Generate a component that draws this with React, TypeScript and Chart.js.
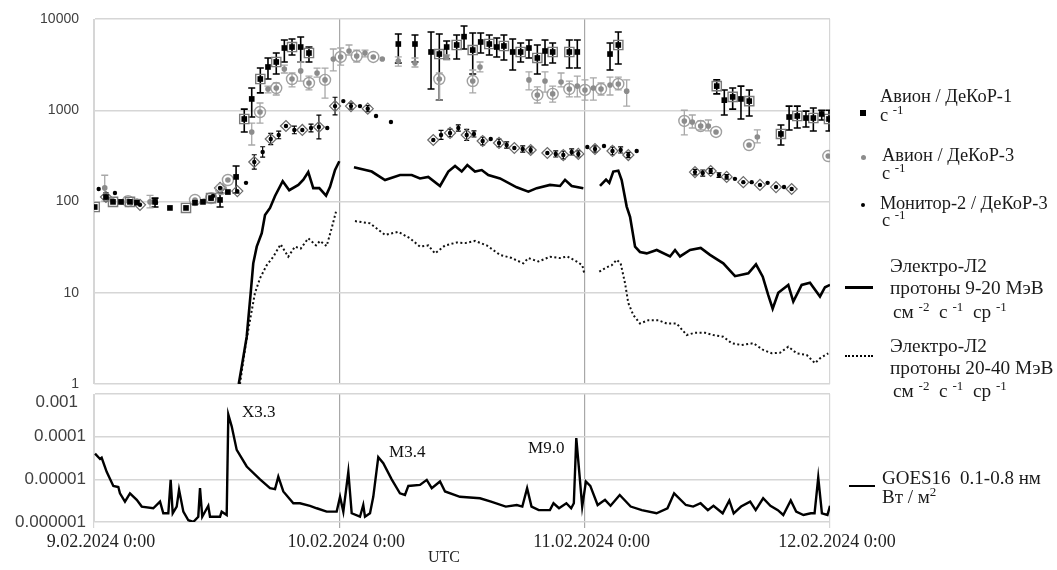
import React, { useEffect, useRef } from "react";
import { Chart, registerables } from "chart.js";

Chart.register(...registerables);

// ---- axes ----
const dayTicks = [0, 24, 48, 72];
const dayLabels = ["9.02.2024 0:00", "10.02.2024 0:00", "11.02.2024 0:00", "12.02.2024 0:00"];
const topTicks = [1, 10, 100, 1000, 10000];
const goesTicks = [1e-6, 1e-5, 1e-4, 1e-3];
const goesTickLabels = ["0.000001", "0.00001", "0.0001", "0.001"];

// ---- Авион / ДеКоР-1 (hours since 9.02 0:00) ----
const dekor1Hours = [0.07,1.17,1.86,2.64,3.52,4.2,5.97,7.43,9.0,9.88,10.66,11.45,12.33,13.1,13.9,14.7,15.43,16.27,17.02,17.83,18.62,19.37,20.22,21.03,29.77,31.4,32.97,33.78,34.5,35.48,36.2,37.05,37.83,38.67,39.4,40.1,40.96,41.74,42.55,43.37,44.12,44.87,46.5,47.28,50.48,51.29,60.92,61.66,62.48,63.29,64.1,67.2,68.0,68.8,69.65,70.37,71.19,71.9];
const dekor1Values = [87,112,99,99,99,97,99,85,85,97,99,109,104,127,186,802,1330,2200,2980,3380,4810,4930,4930,4240,5320,5320,4350,4130,4930,5190,6400,4570,5600,5320,4930,5060,4350,4350,4810,3740,4460,4350,4350,4350,4130,5190,1840,1290,1400,1330,1260,550,843,865,822,822,910,802];
const dekor1ErrHi = [null,null,null,null,null,null,109,null,null,null,null,null,124,null,245,1030,1750,2900,3740,4240,5890,6040,6350,4930,6850,6680,7210,6850,5740,6680,8380,7030,7030,6680,6190,6680,6040,5460,5890,5190,5890,5460,5890,5890,5460,7210,2150,1670,1750,1840,1670,689,1110,1110,977,1060,1000,1000];
const dekor1ErrLo = [null,null,null,null,null,null,87,null,null,null,null,null,87,null,124,578,843,1550,2200,2500,3380,4030,3380,3380,3300,3380,1710,1290,3650,3650,4690,2500,4240,4030,3840,3560,2760,3380,3740,2500,3130,3300,2900,2900,2760,3210,1510,887,1030,802,865,416,608,639,655,593,782,593];
const dekor1Boxed = [1,0,1,0,1,0,0,0,1,0,0,1,0,0,0,1,0,1,0,1,0,1,0,1,0,0,0,1,0,1,0,1,0,1,0,1,0,1,0,1,0,1,1,0,0,1,1,0,1,0,1,1,0,1,0,1,0,1];

// ---- Авион / ДеКоР-3 ----
const dekor3Hours = [1.05,1.76,2.74,3.33,4.2,5.48,9.88,10.76,11.45,12.42,13.1,15.43,16.24,17.02,17.83,18.62,19.37,20.22,21.03,21.82,22.6,23.41,24.13,24.95,25.7,26.51,27.32,28.2,29.77,31.4,33.78,34.5,37.05,37.76,42.55,43.37,44.12,44.87,45.69,46.5,47.28,48.03,48.85,49.6,50.48,51.29,52.11,57.75,58.53,59.35,60.1,60.85,64.08,64.89,71.83];
const dekor3Values = [141,104,99,101,101,99,104,101,109,137,172,578,957,1710,1750,2830,2200,2700,1990,2560,2150,3650,3840,4460,3930,4240,3840,3650,3470,3300,2200,3840,2090,2980,2150,1470,2090,1510,2040,1710,1840,1670,1750,1710,1890,1940,1620,763,743,672,672,578,416,509,315];
const dekor3ErrHi = [194,null,null,null,null,117,null,null,null,null,null,721,1200,1840,1990,3130,2560,3380,2370,2900,2900,4690,4810,5190,4570,4570,null,null,3840,3740,2560,4030,2760,3380,2630,1800,2630,1840,2560,2090,2370,2150,2260,1990,2310,2310,2150,1000,887,763,782,null,null,608,null];
const dekor3ErrLo = [101,null,null,null,null,85,null,null,null,null,null,416,721,1550,1470,2560,1800,2090,1670,2310,1360,2700,3130,4030,3380,3840,null,null,3050,2980,1290,3560,1550,2630,1670,1200,1580,1230,1800,1400,1400,1290,1290,1470,1470,1670,1110,536,639,608,593,null,null,438,null];
const dekor3Ringed = [0,0,0,1,0,0,1,0,1,1,1,0,1,0,1,0,1,0,1,0,1,0,1,0,1,0,1,0,0,0,1,0,1,0,0,1,0,1,0,1,0,1,0,1,0,1,0,1,0,1,0,1,1,0,1];

// ---- Монитор-2 / ДеКоР-3 ----
const monitorHours = [0.46,1.17,2.05,2.64,3.52,4.5,6.07,11.64,12.33,14.02,14.87,15.68,16.5,17.29,18.07,18.78,19.6,20.38,21.23,22.0,22.82,23.58,24.39,25.14,26.02,26.78,27.59,29.05,33.19,33.95,34.83,35.64,36.46,37.17,38.02,38.81,39.62,40.37,41.12,41.94,42.72,44.35,45.17,45.91,46.73,47.38,48.26,49.01,49.89,50.72,51.52,52.27,53.09,58.79,59.55,60.33,61.14,61.89,62.7,63.52,64.34,65.15,65.9,66.72,67.5,68.25];
const monitorValues = [137,112,124,99,101,92,97,115,141,130,160,271,349,484,536,672,608,608,639,655,639,1110,1260,1110,1110,1040,865,743,472,536,564,639,536,550,460,484,438,416,386,376,367,340,332,323,349,332,396,376,406,358,367,323,358,210,205,216,195,186,177,163,163,152,160,144,144,137];
const monitorErrFactor = [null,1.12,null,null,null,null,null,null,null,null,null,1.2,1.14,1.15,1.1,null,1.1,null,1.1,1.35,null,1.25,null,1.08,null,1.08,null,null,null,1.12,1.1,1.08,1.15,1.08,1.1,null,1.1,1.08,null,1.08,1.08,null,1.08,1.1,1.08,1.08,null,1.08,null,1.1,1.08,1.07,null,1.07,1.08,1.06,1.06,1.06,null,null,null,null,null,null,null,null];
const monitorDiamondIdx = [1,5,8,9,11,13,15,17,19,21,23,25,28,30,32,34,36,38,40,41,43,45,47,49,51,53,55,57,59,61,63,65];

// ---- Электро-Л2 протоны 9-20 МэВ ----
const e9Hours = [14.16,14.45,14.94,15.33,15.58,15.92,16.41,16.73,17.22,17.71,18.46,19.1,19.99,20.48,20.96,21.45,22.04,22.7,23.09,23.58,24.0,24.7,25.43,27.17,28.47,29.94,31.08,31.89,32.7,33.85,34.66,35.32,35.97,36.52,37.27,37.93,38.57,39.72,41.35,42.49,43.31,44.61,45.59,46.08,46.73,47.87,48.7,49.5,50.09,50.41,50.8,51.29,51.62,52.11,52.44,52.93,53.41,54.07,55.05,56.35,56.84,57.33,58.31,59.35,60.26,61.56,62.71,64.01,64.76,65.42,65.96,66.39,66.94,67.92,68.41,69.23,70.04,71.02,71.51,72];
const e9Values = [1.0,1.55,3.3,10,21,32,45,71,85,115,167,133,152,173,210,140,140,116,145,222,276,null,237,213,172,195,195,179,186,148,213,245,213,251,213,221,195,179,143,128,140,152,148,173,148,140,null,148,174,160,213,218,172,88,68,32,28,27,29.4,25,29.4,25,29.4,31,26,21,15.2,16.3,20.5,15,9.4,6.7,10,12.2,8,12.2,12.9,9.1,11.5,12.2];

// ---- Электро-Л2 протоны 20-40 МэВ ----
const e40Hours = [14.28,14.77,15.26,15.75,16.24,16.89,17.54,18.26,19.0,19.66,20.22,20.96,21.72,22.11,22.76,23.25,23.67,24.6,25.53,27.0,28.47,29.77,30.91,31.89,32.7,33.36,34.34,35.48,36.29,37.27,38.42,39.72,40.86,42.0,42.49,43.47,44.61,45.59,46.3,47.22,47.77,47.96,48.7,49.43,50.15,50.65,51.13,51.52,51.95,52.27,52.76,53.41,54.23,55.2,56.03,57.0,57.98,58.79,59.77,60.58,61.56,62.38,63.36,64.5,65.47,66.3,67.11,67.92,68.74,69.72,70.53,71.02,71.83];
const e40Values = [1,2.4,5,10,14.4,20,24.8,34,24.8,32,30.5,39.5,33,37,32.5,51,77,null,61,57.6,43,46.6,39.5,32,33,27,33,35.5,35,37,33,26,24,21,24,22,24.8,24,25,22,20,16.3,null,17,19,20,23,21,12.7,7.7,5.7,4.6,5,5,4.6,4.6,3.44,3.65,3.65,3.44,3.3,2.8,2.67,2.8,2.36,2.17,2.2,2.56,2.17,2.08,1.69,1.91,2.17];

// ---- GOES16 0.1-0.8 нм ----
const goesHours = [0.1,0.59,0.75,1.24,1.89,2.38,2.54,3.03,3.52,4.18,4.67,5.8,6.46,6.78,7.27,7.5,7.7,8.09,8.32,8.74,9.23,9.71,10.2,10.37,10.59,11.18,11.35,12.33,12.49,12.98,13.14,13.47,13.96,14.94,16.24,17.22,17.71,18.03,18.52,19.5,20.15,21.13,21.79,22.76,23.74,24.07,24.39,24.88,25.21,26.02,26.34,26.51,27.0,27.32,27.81,28.3,29.12,29.93,30.42,30.75,31.89,32.55,33.04,33.85,34.34,35.8,37.76,38.84,40.28,41.36,41.9,42.37,42.8,43.51,44.6,44.95,45.49,46.21,46.68,46.94,47.18,47.48,47.76,48.12,48.55,49.27,49.99,50.53,51.43,52.5,53.59,55.03,56.1,56.75,57.9,58.61,59.34,60.05,60.6,61.5,62.15,62.58,63.3,64.19,64.73,65.46,66.17,66.9,67.43,68.16,68.69,69.4,70.13,70.49,70.85,71.21,71.75,72];
const goesValues = [4e-5,3e-5,3.2e-5,1.5e-5,7e-6,6.6e-6,4.7e-6,3e-6,4.7e-6,3.3e-6,2.3e-6,2.1e-6,3e-6,1.6e-6,1.6e-6,9.7e-6,1.6e-6,2.3e-6,5.7e-6,1.75e-6,1.1e-6,1e-6,1.33e-6,6.2e-6,1.33e-6,2.4e-6,1.33e-6,1.33e-6,1.75e-6,1.46e-6,3.3e-4,1.75e-4,4.9e-5,2e-5,1e-5,6.2e-6,5.9e-6,1.16e-5,5.2e-6,2.75e-6,2.75e-6,2.4e-6,2.1e-6,1.75e-6,1.75e-6,3.9e-6,1.75e-6,1.5e-5,1.6e-6,1.33e-6,2.5e-6,1.33e-6,1.6e-6,3.9e-6,3.3e-5,2.4e-5,1e-5,4.7e-6,4.3e-6,7e-6,7.4e-6,9.7e-6,6.2e-6,8.9e-6,5.2e-6,3.9e-6,3.6e-6,3e-6,2.3e-6,2.5e-6,2.3e-6,6.2e-6,2.3e-6,1.9e-6,1.9e-6,2.75e-6,2.1e-6,2.75e-6,2.1e-6,2.75e-6,9.3e-5,1.4e-5,2.3e-6,8.9e-6,7e-6,2.5e-6,3.3e-6,2.4e-6,4.3e-6,2.3e-6,1.9e-6,1.6e-6,2.1e-6,4.7e-6,2.5e-6,2.3e-6,2.75e-6,1.9e-6,2.4e-6,1.6e-6,3.2e-6,1.6e-6,2.3e-6,3e-6,1.9e-6,3.6e-6,2.4e-6,1.9e-6,1.46e-6,3.2e-6,1.75e-6,1.46e-6,1.6e-6,1.6e-6,1.1e-5,1.6e-6,1.46e-6,2.4e-6];

// ---- flare labels ----
const flareLabels = ["X3.3", "M3.4", "M9.0"];
const flareHours = [14.48, 28.86, 42.46];
const flareValues = [3.67e-4, 4.2e-5, 5.2e-5];

const pts = (xs: number[], ys: (number | null)[]) => xs.map((x, i) => ({ x, y: ys[i] }));
const pick = (xs: number[], ys: number[], flags: number[]) =>
  xs.map((x, i) => ({ x, y: ys[i] })).filter((_, i) => flags[i]);

const errorBarPlugin = {
  id: "errorBars",
  beforeDatasetsDraw(chart: any) {
    const { ctx, chartArea } = chart;
    const xs = chart.scales.x;
    const ys = chart.scales.y;
    ctx.save();
    ctx.beginPath();
    ctx.rect(chartArea.left, chartArea.top, chartArea.right - chartArea.left, chartArea.bottom - chartArea.top);
    ctx.clip();
    chart.data.datasets.forEach((ds: any) => {
      const eb = ds.errorBars;
      if (!eb) return;
      ctx.strokeStyle = eb.color;
      ctx.lineWidth = eb.width;
      ds.data.forEach((p: any, j: number) => {
        const lo = eb.lo[j];
        const hi = eb.hi[j];
        if (lo == null || hi == null) return;
        const px = xs.getPixelForValue(p.x);
        const y1 = ys.getPixelForValue(hi);
        const y2 = ys.getPixelForValue(lo);
        ctx.beginPath();
        ctx.moveTo(px, y1);
        ctx.lineTo(px, y2);
        ctx.moveTo(px - eb.cap, y1);
        ctx.lineTo(px + eb.cap, y1);
        ctx.moveTo(px - eb.cap, y2);
        ctx.lineTo(px + eb.cap, y2);
        ctx.stroke();
      });
    });
    ctx.restore();
  },
};

const yTickFontBottom = '17px "Liberation Sans", Arial, sans-serif';

const flarePlugin = {
  id: "flares",
  afterDatasetsDraw(chart: any) {
    const { ctx } = chart;
    const xs = chart.scales.x;
    const ys = chart.scales.y;
    ctx.save();
    ctx.font = '17px "Liberation Serif", "Times New Roman", serif';
    ctx.fillStyle = "#111";
    ctx.textAlign = "left";
    ctx.textBaseline = "middle";
    flareLabels.forEach((t, i) => {
      ctx.fillText(t, xs.getPixelForValue(flareHours[i]), ys.getPixelForValue(flareValues[i]));
    });
    // top tick label of the GOES axis sits a little below its grid line (as in the source figure)
    ctx.font = yTickFontBottom;
    ctx.fillStyle = "#404040";
    ctx.textAlign = "right";
    ctx.fillText(goesTickLabels[3], 78, ys.getPixelForValue(goesTicks[3]) + 8);
    ctx.restore();
  },
};

const gridColorX = (c: any) =>
  c.tick && (c.tick.value === 24 || c.tick.value === 48) ? "#a8a8a8" : "#d6d6d6";

const scatterDs = (data: any, style: any) => ({
  type: "line",
  data,
  showLine: false,
  ...style,
});

export default function App() {
  const topRef = useRef<HTMLCanvasElement>(null);
  const botRef = useRef<HTMLCanvasElement>(null);

  useEffect(() => {
    const monitorHi = monitorValues.map((v, i) => (monitorErrFactor[i] ? v * (monitorErrFactor[i] as number) : null));
    const monitorLo = monitorValues.map((v, i) => (monitorErrFactor[i] ? v / (monitorErrFactor[i] as number) : null));
    const monitorDiamondFlags = monitorHours.map((_, i) => (monitorDiamondIdx.includes(i) ? 1 : 0));

    const top = new Chart(topRef.current as HTMLCanvasElement, {
      type: "line",
      data: {
        datasets: [
          scatterDs(pts(dekor1Hours, dekor1Values), {
            label: "Авион / ДеКоР-1",
            pointStyle: "rect",
            pointRadius: 4,
            pointBackgroundColor: "#000",
            pointBorderColor: "#000",
            pointBorderWidth: 0,
            errorBars: { lo: dekor1ErrLo, hi: dekor1ErrHi, color: "#000", width: 1.6, cap: 3.5 },
          }),
          scatterDs(pts(monitorHours, monitorValues), {
            label: "Монитор-2 / ДеКоР-3",
            pointStyle: "circle",
            pointRadius: 2.2,
            pointBackgroundColor: "#000",
            pointBorderWidth: 0,
            errorBars: { lo: monitorLo, hi: monitorHi, color: "#000", width: 1.2, cap: 2.5 },
          }),
          scatterDs(pts(dekor3Hours, dekor3Values), {
            label: "Авион / ДеКоР-3",
            pointStyle: "circle",
            pointRadius: 2.8,
            pointBackgroundColor: "#8c8c8c",
            pointBorderWidth: 0,
            errorBars: { lo: dekor3ErrLo, hi: dekor3ErrHi, color: "#a8a8a8", width: 1.3, cap: 3.5 },
          }),
          scatterDs(pick(dekor1Hours, dekor1Values, dekor1Boxed), {
            label: "ДеКоР-1 рамка",
            pointStyle: "rect",
            pointRadius: 6.5,
            pointBackgroundColor: "rgba(0,0,0,0)",
            pointBorderColor: "#7a7a7a",
            pointBorderWidth: 1.4,
          }),
          scatterDs(pick(dekor3Hours, dekor3Values, dekor3Ringed), {
            label: "ДеКоР-3 кольцо",
            pointStyle: "circle",
            pointRadius: 5.5,
            pointBackgroundColor: "rgba(0,0,0,0)",
            pointBorderColor: "#a0a0a0",
            pointBorderWidth: 1.4,
          }),
          scatterDs(pick(monitorHours, monitorValues, monitorDiamondFlags), {
            label: "Монитор ромб",
            pointStyle: "rectRot",
            pointRadius: 5.5,
            pointBackgroundColor: "rgba(0,0,0,0)",
            pointBorderColor: "#6a6a6a",
            pointBorderWidth: 1.2,
          }),
          {
            type: "line",
            label: "Электро-Л2 9-20 МэВ",
            data: pts(e9Hours, e9Values),
            borderColor: "#000",
            borderWidth: 2.6,
            pointRadius: 0,
            spanGaps: false,
            tension: 0,
          },
          {
            type: "line",
            label: "Электро-Л2 20-40 МэВ",
            data: pts(e40Hours, e40Values),
            borderColor: "#111",
            borderWidth: 2,
            borderDash: [2, 2.5],
            pointRadius: 0,
            spanGaps: false,
            tension: 0,
          },
        ] as any,
      },
      options: {
        responsive: false,
        animation: false,
        devicePixelRatio: 1,
        layout: { padding: { top: 19, left: 0, right: 227, bottom: 9 } },
        plugins: { legend: { display: false }, tooltip: { enabled: false } },
        scales: {
          x: {
            type: "linear",
            min: 0,
            max: 72,
            afterBuildTicks: (ax: any) => {
              ax.ticks = dayTicks.map((v) => ({ value: v }));
            },
            afterFit: (ax: any) => {
              ax.height = 0;
            },
            ticks: { display: false },
            grid: { color: gridColorX, drawTicks: false, lineWidth: 1.2 },
            border: { display: false },
          },
          y: {
            type: "logarithmic",
            min: 1,
            max: 10000,
            afterBuildTicks: (ax: any) => {
              ax.ticks = topTicks.map((v) => ({ value: v }));
            },
            afterFit: (ax: any) => {
              ax.width = 94;
            },
            ticks: {
              callback: (v: any) => String(v),
              font: { family: '"Liberation Sans", Arial, sans-serif', size: 14 },
              color: "#404040",
              padding: 0,
            },
            grid: { color: "#d6d6d6", lineWidth: 1.4, drawTicks: true, tickLength: 15, tickColor: "rgba(0,0,0,0)" },
            border: { display: true, color: "#d6d6d6" },
          },
        },
      } as any,
      plugins: [errorBarPlugin],
    });

    const bot = new Chart(botRef.current as HTMLCanvasElement, {
      type: "line",
      data: {
        datasets: [
          {
            label: "GOES16 0.1-0.8 нм",
            data: pts(goesHours, goesValues),
            borderColor: "#000",
            borderWidth: 2.4,
            pointRadius: 0,
            tension: 0,
          },
        ],
      },
      options: {
        responsive: false,
        animation: false,
        devicePixelRatio: 1,
        layout: { padding: { top: 14, left: 0, right: 227, bottom: 0 } },
        plugins: { legend: { display: false }, tooltip: { enabled: false } },
        scales: {
          x: {
            type: "linear",
            min: 0,
            max: 72,
            afterBuildTicks: (ax: any) => {
              ax.ticks = dayTicks.map((v) => ({ value: v }));
            },
            afterFit: (ax: any) => {
              ax.height = 48;
            },
            ticks: {
              autoSkip: false,
              maxRotation: 0,
              callback: (_v: any, i: number) => dayLabels[i],
              font: { family: '"Liberation Serif", "Times New Roman", serif', size: 18 },
              color: "#222",
              padding: 3,
              labelOffset: 7,
            },
            grid: { color: gridColorX, drawTicks: true, tickLength: 6, lineWidth: 1.2 },
            border: { display: false },
          },
          y: {
            type: "logarithmic",
            min: 1e-6,
            max: 1e-3,
            afterBuildTicks: (ax: any) => {
              ax.ticks = goesTicks.map((v) => ({ value: v }));
            },
            afterFit: (ax: any) => {
              ax.width = 94;
            },
            ticks: {
              callback: (_v: any, i: number) => (i === 3 ? "" : goesTickLabels[i]),
              font: { family: '"Liberation Sans", Arial, sans-serif', size: 17 },
              color: "#404040",
              padding: 0,
            },
            grid: { color: "#d6d6d6", lineWidth: 1.4, drawTicks: true, tickLength: 8, tickColor: "rgba(0,0,0,0)" },
            border: { display: true, color: "#d6d6d6" },
          },
        },
      } as any,
      plugins: [flarePlugin],
    });

    return () => {
      top.destroy();
      bot.destroy();
    };
  }, []);

  const serif = '"Liberation Serif", "Times New Roman", serif';
  const txt = (left: number, cy: number, size: number): React.CSSProperties => ({
    position: "absolute",
    left,
    top: cy - 11,
    height: 22,
    lineHeight: "22px",
    fontSize: size,
    fontFamily: serif,
    color: "#1a1a1a",
    whiteSpace: "nowrap",
  });
  const sup: React.CSSProperties = { fontSize: 13, verticalAlign: "7px", lineHeight: 0 };
  const A = 18.4;
  const E = 19.3;
  const G = 19;

  return (
    <div style={{ position: "absolute", left: 0, top: 0, width: 1057, height: 570, background: "#fff", overflow: "hidden" }}>
      <canvas ref={topRef} width={1057} height={393} style={{ position: "absolute", left: 0, top: 0, display: "block" }} />
      <canvas ref={botRef} width={1057} height={190} style={{ position: "absolute", left: 0, top: 380, display: "block" }} />

      {/* legend */}
      <div style={{ position: "absolute", left: 860, top: 110, width: 6, height: 6, background: "#000" }} />
      <div style={txt(880, 96, A)}>Авион / ДеКоР-1</div>
      <div style={txt(880, 115, A)}>с <span style={sup}>-1</span></div>

      <div style={{ position: "absolute", left: 860.5, top: 154.5, width: 5, height: 5, borderRadius: "50%", background: "#8c8c8c" }} />
      <div style={txt(882, 155, A)}>Авион / ДеКоР-3</div>
      <div style={txt(882, 173, A)}>с <span style={sup}>-1</span></div>

      <div style={{ position: "absolute", left: 861, top: 203, width: 4, height: 4, borderRadius: "50%", background: "#000" }} />
      <div style={txt(880, 203, A)}>Монитор-2 / ДеКоР-3</div>
      <div style={txt(882, 220, A)}>с <span style={sup}>-1</span></div>

      <div style={{ position: "absolute", left: 845, top: 286, width: 28, height: 2.5, background: "#000" }} />
      <div style={txt(890, 266, E)}>Электро-Л2</div>
      <div style={txt(890, 288, E)}>протоны 9-20 МэВ</div>
      <div style={txt(893, 312, E)}>см <span style={sup}>-2</span>&nbsp; с <span style={sup}>-1</span>&nbsp; ср <span style={sup}>-1</span></div>

      <div style={{ position: "absolute", left: 845, top: 355, width: 28, height: 0, borderTop: "2px dotted #000" }} />
      <div style={txt(890, 346, E)}>Электро-Л2</div>
      <div style={txt(890, 368, E)}>протоны 20-40 МэВ</div>
      <div style={txt(893, 391, E)}>см <span style={sup}>-2</span>&nbsp; с <span style={sup}>-1</span>&nbsp; ср <span style={sup}>-1</span></div>

      <div style={{ position: "absolute", left: 849, top: 485, width: 26, height: 2.2, background: "#000" }} />
      <div style={txt(882, 478, G)}>GOES16&nbsp; 0.1-0.8 нм</div>
      <div style={txt(882, 497, G)}>Вт / м<span style={sup}>2</span></div>

      <div style={{ position: "absolute", left: 428, top: 547, height: 20, lineHeight: "20px", fontSize: 16, fontFamily: serif, color: "#222" }}>UTC</div>
    </div>
  );
}
